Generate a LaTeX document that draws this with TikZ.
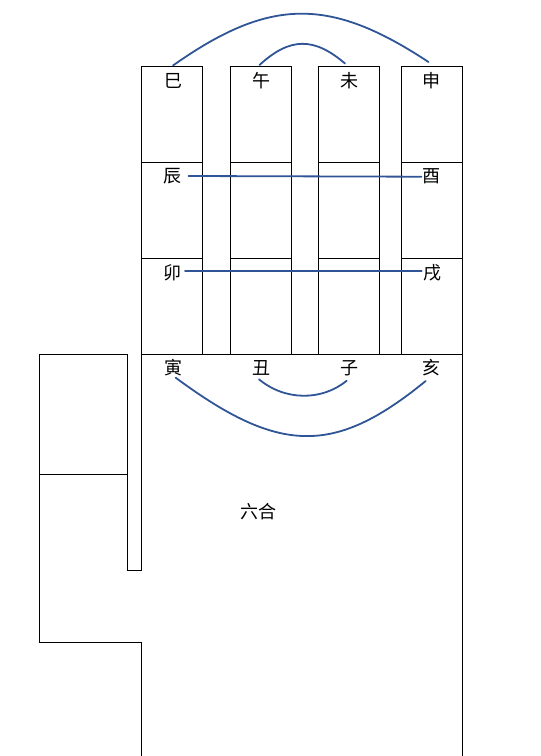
\documentclass[tikz,border=0pt]{standalone}
\usepackage{fontspec}
\newfontfamily\cjk{Noto Sans CJK SC}
\definecolor{arcblue}{RGB}{47,85,151}
\begin{document}
\begin{tikzpicture}[x=1pt,y=-1pt, line join=miter, font=\cjk\fontsize{18}{18}\selectfont]
			\tikzset{box/.style={draw,line width=1pt},
				zhi/.style={inner sep=0pt},
				link/.style={draw=arcblue,line width=1.8pt,line cap=round}}
			\def \w{61}
			\def \h{96}
			\useasboundingbox (0,0) rectangle (541,756);
			
			% twelve palaces
			\foreach \x in {141.3,230.3,318.7,401.3}
			\foreach \y in {66.3,162.3,258.3}
			\draw[box] (\x,\y) rectangle ++(\w,\h);
			
			\path 
			(39.3,354.3) coordinate (P)
			(127.3,474.3) coordinate (Q)
			(141.3,570) coordinate (R)
			(462.3,760) coordinate (S)
			;
			\draw[box] (141.3,760)--(141.3,642.3)--(P|-0,642.3)--(P)--(Q|-P)--(Q|-R)--(R)--(R|-P)--(S|-P)--(S);
			\draw[box] (P|-Q)--(Q);
			
			\foreach \n/\t/\x/\y in {si/巳/173/81, wu/午/261.5/81, wei/未/349.5/81, shen/申/431.5/81,
				chen/辰/172.5/176, you/酉/431.5/176, mao/卯/172.5/273, xu/戌/432/273,
				yin/寅/173/368, chou/丑/261.5/368, zi/子/349.5/368, hai/亥/431.5/368}
			\node[zhi] (\n) at (\x,\y) {\t};
			\node[zhi] (liuhe) at (258.5,512) {六合};
			
			\draw[link] ([yshift=15.5pt]si.center) .. controls (270,-3) and (330,-3) .. ([xshift=-3pt,yshift=19pt]shen.center);
			\draw[link] ([xshift=-2pt,yshift=16pt]wu.center) .. controls (290,37) and (314,37) .. ([xshift=-4.5pt,yshift=17.5pt]wei.center);
			\draw[link] ([xshift=16pt]chen.center)--([xshift=-10pt,yshift=-0.7pt]you.center);
			\draw[link] ([xshift=12.5pt,yshift=2.3pt]mao.center)--([xshift=-10.3pt,yshift=2.3pt]xu.center);
			\draw[link] ([xshift=2.7pt,yshift=-9.7pt]yin.center) .. controls (280,455) and (335,455) .. ([xshift=-5.8pt,yshift=-13pt]hai.center);
			\draw[link] ([xshift=-2.5pt,yshift=-11.3pt]chou.center) .. controls (285,401) and (322,401) .. ([xshift=-2.8pt,yshift=-12.7pt]zi.center);
		\end{tikzpicture}
\end{document}
